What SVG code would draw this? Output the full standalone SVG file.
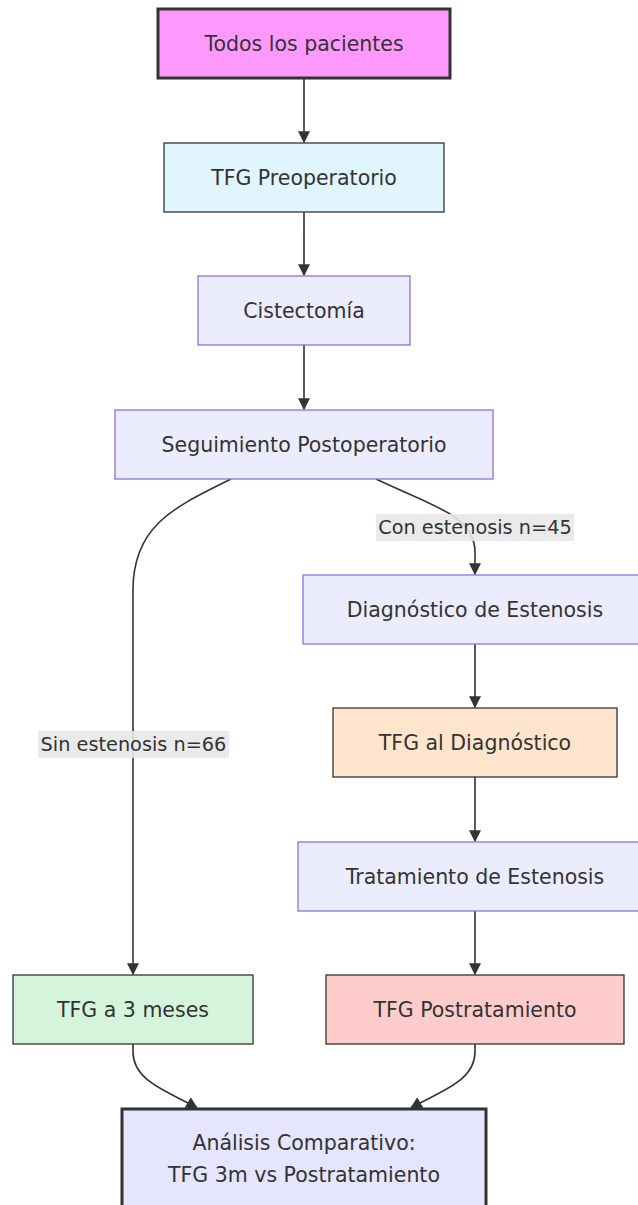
<svg xmlns="http://www.w3.org/2000/svg" width="638" height="1205" viewBox="0 0 638 1205">
<style>
text{font-family:"DejaVu Sans","Liberation Sans",sans-serif;font-size:20.5px;fill:#333;text-anchor:middle;dominant-baseline:central}
text.el{font-size:19.3px}
.def{fill:#ececff;stroke:#9370db;stroke-width:1.3}
.dk{stroke:#333;stroke-width:1.3}
.thick{stroke:#333;stroke-width:3}
.edge{fill:none;stroke:#333;stroke-width:1.6}
.lbl{fill:#e8e8e8;opacity:0.9}
</style>
<defs>
<marker id="arr" viewBox="0 0 10 10" refX="9" refY="5" markerWidth="12" markerHeight="12" markerUnits="userSpaceOnUse" orient="auto">
<path d="M0,0 L10,5 L0,10 z" fill="#333"/>
</marker>
</defs>
<rect width="638" height="1205" fill="#fff"/>
<g id="edges">
<path class="edge" d="M304,78 L304,142" marker-end="url(#arr)"/>
<path class="edge" d="M304,212 L304,275" marker-end="url(#arr)"/>
<path class="edge" d="M304,345 L304,409" marker-end="url(#arr)"/>
<path class="edge" d="M231,479 C175,507 133,525 133,590 L133,974" marker-end="url(#arr)"/>
<path class="edge" d="M376,479 C430,505 475,515 475,552 L475,574" marker-end="url(#arr)"/>
<path class="edge" d="M475,644 L475,707" marker-end="url(#arr)"/>
<path class="edge" d="M475,777 L475,841" marker-end="url(#arr)"/>
<path class="edge" d="M475,911 L475,974" marker-end="url(#arr)"/>
<path class="edge" d="M133,1044 L133,1052 C133,1082 170,1092 197,1108" marker-end="url(#arr)"/>
<path class="edge" d="M475,1044 L475,1052 C475,1082 438,1092 411,1108" marker-end="url(#arr)"/>
<g id="label-sin">
<rect class="lbl" x="38" y="731" width="191" height="27"/>
<text class="el" x="133.5" y="744">Sin estenosis n=66</text>
</g>
<g id="label-con">
<rect class="lbl" x="376" y="514" width="198" height="27"/>
<text class="el" x="475" y="527">Con estenosis n=45</text>
</g>
</g>
<g id="n1"><rect x="158" y="9" width="292" height="69" fill="#ff99ff" class="thick"/><text x="304" y="44">Todos los pacientes</text></g>
<g id="n2"><rect x="164" y="143" width="280" height="69" fill="#e1f5fe" class="dk"/><text x="304" y="178">TFG Preoperatorio</text></g>
<g id="n3"><rect x="198" y="276" width="212" height="69" class="def"/><text x="304" y="311">Cistectomía</text></g>
<g id="n4"><rect x="115" y="410" width="378" height="69" class="def"/><text x="304" y="445">Seguimiento Postoperatorio</text></g>
<g id="n5"><rect x="303" y="575" width="344" height="69" class="def"/><text x="475" y="610">Diagnóstico de Estenosis</text></g>
<g id="n6"><rect x="333" y="708" width="284" height="69" fill="#ffe5cc" class="dk"/><text x="475" y="743">TFG al Diagnóstico</text></g>
<g id="n7"><rect x="298" y="842" width="354" height="69" class="def"/><text x="475" y="877">Tratamiento de Estenosis</text></g>
<g id="n8"><rect x="13" y="975" width="240" height="69" fill="#d4f5dc" class="dk"/><text x="133" y="1010">TFG a 3 meses</text></g>
<g id="n9"><rect x="326" y="975" width="298" height="69" fill="#ffcccc" class="dk"/><text x="475" y="1010">TFG Postratamiento</text></g>
<g id="n10"><rect x="122" y="1109" width="364" height="110" fill="#e5e5ff" class="thick"/><text x="304" y="1143">Análisis Comparativo:</text><text x="304" y="1175">TFG 3m vs Postratamiento</text></g>
</svg>
